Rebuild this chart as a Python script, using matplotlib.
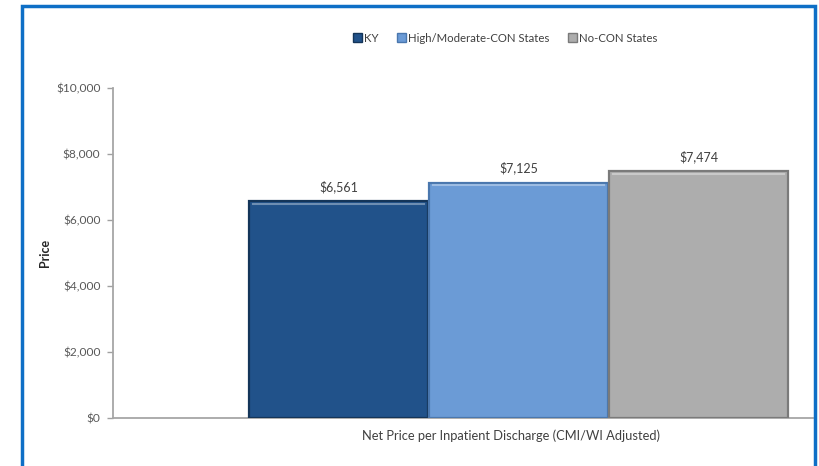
import matplotlib
matplotlib.use("Agg")
import matplotlib.pyplot as plt
from matplotlib.patches import Rectangle
from matplotlib.ticker import FuncFormatter

plt.rcParams['font.family'] = ['Lato', 'DejaVu Sans']

groups = ["KY", "High/Moderate-CON States", "No-CON States"]
prices = [6561, 7125, 7474]
category = "Net Price per Inpatient Discharge (CMI/WI Adjusted)"
yticks = [0, 2000, 4000, 6000, 8000, 10000]

fills = ["#21528A", "#6B9BD6", "#ADADAD"]
edges = ["#143559", "#4A77AE", "#7A7A7A"]

W, H = 820, 466
fig = plt.figure(figsize=(W / 100, H / 100), dpi=100)
ax = fig.add_axes([113 / W, 1 - 418 / H, 700 / W, 330 / H])

xs = [0, 1, 2]
bars = ax.bar(xs, prices, width=0.99, color=fills, edgecolor=edges, linewidth=1.6, zorder=3)
# light bevel along the top of each bar
for b in bars:
    x0 = b.get_x() + 0.02
    ax.plot([x0, x0 + b.get_width() - 0.04], [b.get_height() - 70] * 2,
            color="white", alpha=0.35, lw=1.5, zorder=4)

for x, v in zip(xs, prices):
    ax.annotate(f"${v:,}", (x, v), xytext=(0, 6), textcoords="offset points",
                ha="center", va="bottom", fontsize=9, color="#404040")

ax.set_xlim(-1.253, 2.636)
ax.set_ylim(0, 10000)
ax.set_yticks(yticks)
ax.yaxis.set_major_formatter(FuncFormatter(lambda v, p: f"${v:,.0f}"))
ax.set_xticks([0.96])
ax.set_xticklabels([category])
ax.tick_params(axis="x", length=0, pad=8, labelsize=9.3, labelcolor="#404040")
ax.tick_params(axis="y", direction="out", length=4, width=1, color="#A0A0A0",
               labelsize=8.6, labelcolor="#595959", pad=5)
for s in ["top", "right"]:
    ax.spines[s].set_visible(False)
for s in ["left", "bottom"]:
    ax.spines[s].set_color("#A6A6A6")
    ax.spines[s].set_linewidth(1.3)

ax.set_ylabel("Price", fontsize=9, fontweight="bold", color="#262626")
ax.yaxis.set_label_coords(-0.088, 0.5)

handles = [Rectangle((0, 0), 1, 1, facecolor=f, edgecolor=e, lw=1) for f, e in zip(fills, edges)]
fig.legend(handles, groups, loc="center", bbox_to_anchor=(505 / W, 1 - 38 / H), ncol=3,
           frameon=False, fontsize=8.2, labelcolor="#404040", handlelength=0.8,
           handleheight=0.8, handletextpad=0.2, columnspacing=1.6)

# blue frame around the chart
fig.patches.append(Rectangle((22 / W, -0.05), 793 / W, 1.05 - 6 / H, transform=fig.transFigure,
                             fill=False, edgecolor="#0E6FC6", lw=2.5, clip_on=False))

fig.savefig("out.png", dpi=100)
